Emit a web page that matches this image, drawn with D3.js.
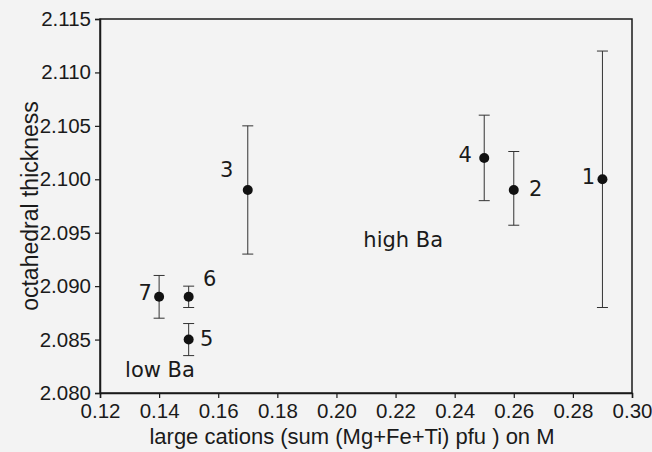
<!DOCTYPE html>
<html>
<head>
<meta charset="utf-8">
<script src="https://cdn.jsdelivr.net/npm/d3@7"></script>
<style>
  body { margin: 0; background: #f3f3f3; }
  svg { display: block; }
</style>
</head>
<body>
<script>
// sample numbers and measured values
var sampleIds = ["1", "2", "3", "4", "5", "6", "7"];
var largeCations = [0.29, 0.26, 0.17, 0.25, 0.15, 0.15, 0.14];
var thickness = [2.100, 2.099, 2.099, 2.102, 2.085, 2.089, 2.089];
var errLow = [2.088, 2.0957, 2.093, 2.098, 2.0835, 2.088, 2.087];
var errHigh = [2.112, 2.1026, 2.105, 2.106, 2.0865, 2.090, 2.091];

// group annotations
var groupText = ["low Ba", "high Ba"];
var groupX = [0.1403, 0.2226];
var groupY = [2.0815, 2.0937];

var xTicks = [0.12, 0.14, 0.16, 0.18, 0.20, 0.22, 0.24, 0.26, 0.28, 0.30];
var yTicks = [2.080, 2.085, 2.090, 2.095, 2.100, 2.105, 2.110, 2.115];

/* ========= Constants ========= */
var w = 652;
var h = 452;
var margin = {top: 19, right: 20, bottom: 59, left: 100};
var ink = "#1a1a1a";
var tickFont = "Liberation Sans, Arial, sans-serif";
var noteFont = "DejaVu Sans, sans-serif";
// label offsets in px from the point (layout only)
var labelOffset = {
    "1": [-14, 5], "2": [22, 6], "3": [-21, -13], "4": [-19, 4],
    "5": [18, 6], "6": [21, -11], "7": [-14, 3]
};

var svg = d3.select("body")
    .append("svg")
    .attr("width", w)
    .attr("height", h);

var xScale = d3.scaleLinear()
    .domain([0.12, 0.30])
    .range([margin.left, w - margin.right]);
var yScale = d3.scaleLinear()
    .domain([2.080, 2.115])
    .range([h - margin.bottom, margin.top]);

// frame
svg.append("rect")
    .attr("x", xScale(0.12))
    .attr("y", yScale(2.115))
    .attr("width", xScale(0.30) - xScale(0.12))
    .attr("height", yScale(2.080) - yScale(2.115))
    .attr("fill", "none")
    .attr("stroke", ink)
    .attr("stroke-width", 1.5);

var xAxis = d3.axisBottom(xScale)
    .tickValues(xTicks)
    .tickFormat(d3.format(".2f"))
    .tickSize(5)
    .tickPadding(5);
var yAxis = d3.axisLeft(yScale)
    .tickValues(yTicks)
    .tickFormat(d3.format(".3f"))
    .tickSize(5)
    .tickPadding(4);

var gx = svg.append("g")
    .attr("transform", "translate(0," + (h - margin.bottom) + ")")
    .call(xAxis);
var gy = svg.append("g")
    .attr("transform", "translate(" + margin.left + ",0)")
    .call(yAxis);

[gx, gy].forEach(function (g) {
    g.select(".domain").attr("stroke", ink).attr("stroke-width", 1.5);
    g.selectAll(".tick line").attr("stroke", ink).attr("stroke-width", 1.2);
    g.selectAll(".tick text")
        .attr("fill", ink)
        .attr("font-family", tickFont)
        .attr("font-size", "20.5px");
});

// axis titles
svg.append("text")
    .attr("x", 352)
    .attr("y", 444)
    .attr("text-anchor", "middle")
    .attr("font-family", tickFont)
    .attr("font-size", "22px")
    .attr("fill", ink)
    .text("large cations (sum (Mg+Fe+Ti) pfu ) on M");

svg.append("text")
    .attr("transform", "translate(38," + ((yScale(2.080) + yScale(2.115)) / 2) + ") rotate(-90)")
    .attr("text-anchor", "middle")
    .attr("font-family", tickFont)
    .attr("font-size", "23px")
    .attr("fill", ink)
    .text("octahedral thickness");

/* ========= Error bars and points ========= */
var capHalf = 5.5;
var pts = svg.append("g");
sampleIds.forEach(function (id, i) {
    var cx = xScale(largeCations[i]);
    pts.append("line")
        .attr("x1", cx).attr("x2", cx)
        .attr("y1", yScale(errLow[i])).attr("y2", yScale(errHigh[i]))
        .attr("stroke", "#333").attr("stroke-width", 1);
    [errLow[i], errHigh[i]].forEach(function (v) {
        pts.append("line")
            .attr("x1", cx - capHalf).attr("x2", cx + capHalf)
            .attr("y1", yScale(v)).attr("y2", yScale(v))
            .attr("stroke", "#333").attr("stroke-width", 1);
    });
    pts.append("circle")
        .attr("cx", cx)
        .attr("cy", yScale(thickness[i]))
        .attr("r", 5)
        .attr("fill", "#111");
    pts.append("text")
        .attr("x", cx + labelOffset[id][0])
        .attr("y", yScale(thickness[i]) + labelOffset[id][1])
        .attr("text-anchor", "middle")
        .attr("font-family", noteFont)
        .attr("font-size", "21px")
        .attr("fill", ink)
        .text(id);
});

// group notes
groupText.forEach(function (t, i) {
    svg.append("text")
        .attr("x", xScale(groupX[i]))
        .attr("y", yScale(groupY[i]))
        .attr("text-anchor", "middle")
        .attr("font-family", noteFont)
        .attr("font-size", "21px")
        .attr("fill", ink)
        .text(t);
});
</script>
</body>
</html>
